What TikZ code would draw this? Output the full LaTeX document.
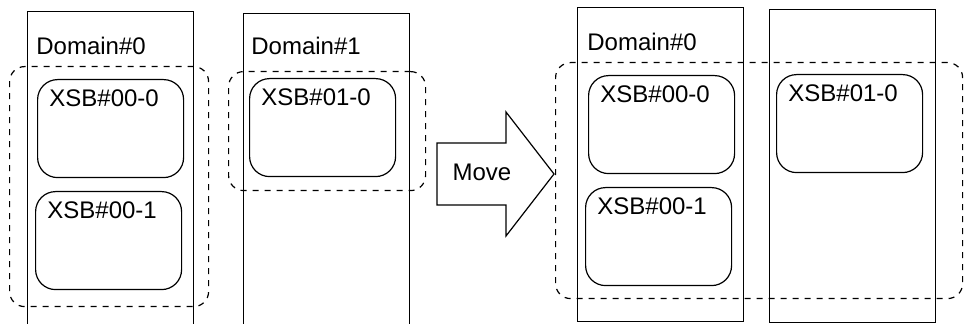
\documentclass[tikz,border=0pt]{standalone}
\usepackage{fontspec}
\setmainfont{Liberation Sans}
\usetikzlibrary{positioning}
\tikzset{
  domainbox/.style={draw, line width=0.6pt, anchor=north west, minimum width=83pt, inner sep=0pt},
  xsbbox/.style={draw, line width=0.6pt, rounded corners=10pt, anchor=north west, minimum width=73pt, minimum height=49pt, inner sep=0pt},
  groupbox/.style={draw, line width=0.6pt, dash pattern=on 3pt off 3pt, rounded corners=7.5pt, anchor=north west, inner sep=0pt},
  tagtext/.style={inner sep=0pt, font=\fontsize{12}{14}\selectfont},
}

\begin{document}
\begin{tikzpicture}[x=0.5pt,y=-0.5pt]
    % page frame
    \clip (0,0) rectangle (964,324);

    % draw the domains
    \foreach \name/\x/\y/\h in {d0/27/11/165pt, d1/243/13/164pt, m0/577/7/157pt, m1/769/9/156.5pt}
        \node[domainbox, minimum height=\h] (\name) at (\x,\y) {};

    % label the domains
    \node[tagtext, below right=13pt and 4.5pt of d0.north west] (d0txt) {Domain\#0};
    \node[tagtext, below right=12pt and 4pt of d1.north west] (d1txt) {Domain\#1};
    \node[tagtext, below right=13pt and 5pt of m0.north west] (m0txt) {Domain\#0};

    % draw the boards
    \foreach \name/\x/\y/\txt in {a0/37/79/00-0, a1/35/191/00-1, b0/249/78/01-0, c0/588/75/00-0, c1/585/187/00-1, c2/776/74/01-0} {
        \node[xsbbox] (\name) at (\x,\y) {};
        \node[tagtext, below right=5pt and 6pt of \name.north west] (\name txt) {XSB\#\txt};
    }

    % draw the dashed groups
    \node[groupbox, minimum width=99.5pt, minimum height=120pt] (g0) at (9,66) {};
    \node[groupbox, minimum width=98.5pt, minimum height=59.5pt] (g1) at (228,71) {};
    \node[groupbox, minimum width=203.5pt, minimum height=118pt] (g2) at (555,62) {};

    % draw the move arrow
    \draw[line width=0.6pt] (437,143) -- (506,143) -- (506,112) -- (554,174) -- (506,236) -- (506,205) -- (437,205) -- cycle;
    \node[tagtext] (move) at (482,172) {Move};
\end{tikzpicture}
\end{document}
